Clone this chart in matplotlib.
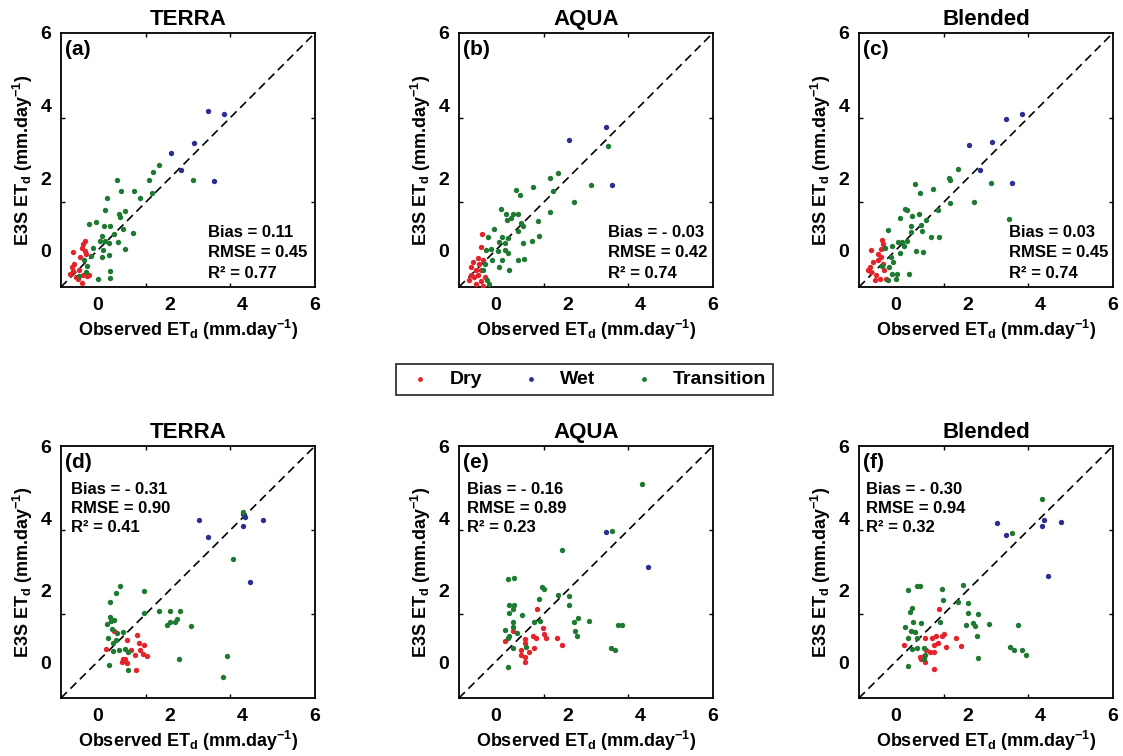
import matplotlib
matplotlib.use("Agg")
import matplotlib.pyplot as plt

plt.rcParams['font.family'] = ['Liberation Sans', 'DejaVu Sans']
plt.rcParams['font.weight'] = 'bold'
plt.rcParams['axes.labelweight'] = 'bold'
plt.rcParams['axes.titleweight'] = 'bold'
plt.rcParams['mathtext.fontset'] = 'custom'
plt.rcParams['mathtext.rm'] = 'Liberation Sans:bold'
plt.rcParams['mathtext.it'] = 'Liberation Sans:bold'
plt.rcParams['mathtext.bf'] = 'Liberation Sans:bold'
plt.rcParams['mathtext.default'] = 'bf'

# (observed, E3S) pairs, one list per panel and class
a_dry = [(-0.39, 0.19), (-0.42, 0.08), (-0.34, -0.01), (-0.31, -0.10), (-0.66, -0.04),
         (-0.63, -0.36), (-0.71, -0.45), (-0.49, -0.54), (-0.40, -0.68), (-0.29, -0.70),
         (-0.22, -0.68), (-0.75, -0.63), (-0.42, -0.90), (-0.59, -0.72), (-0.66, -0.56),
         (-0.48, -0.18), (-0.52, -0.77), (-0.34, 0.28)]
a_wet = [(3.04, 3.86), (3.50, 3.77), (2.66, 2.96), (2.03, 2.69), (2.32, 2.21), (3.21, 1.92)]
a_tra = [(1.71, 2.35), (1.53, 2.17), (1.42, 1.96), (0.55, 1.94), (0.65, 1.64), (1.01, 1.64),
         (2.63, 1.94), (0.28, 1.46), (1.18, 1.45), (1.52, 1.60), (0.22, 1.13), (0.61, 1.02),
         (0.77, 1.09), (0.62, 0.92), (-0.23, 0.74), (-0.04, 0.79), (0.18, 0.69), (0.36, 0.68),
         (0.47, 0.46), (0.70, 0.60), (0.98, 0.50), (0.14, 0.41), (0.08, 0.26), (0.20, 0.28),
         (0.33, 0.21), (0.58, 0.24), (-0.11, 0.08), (0.15, 0.02), (0.76, 0.05), (0.13, -0.18),
         (0.32, -0.11), (0.01, -0.79), (0.35, -0.57), (0.35, -0.75), (-0.37, -0.25),
         (-0.27, -0.43), (-0.16, -0.14), (-0.50, -0.70), (-0.30, -0.60)]

b_dry = [(-0.36, 0.45), (-0.40, 0.11), (-0.48, -0.19), (-0.34, -0.25), (-0.62, -0.31),
         (-0.66, -0.44), (-0.52, -0.54), (-0.38, -0.52), (-0.68, -0.68), (-0.59, -0.72),
         (-0.48, -0.68), (-0.40, -0.84), (-0.34, -0.96), (-0.52, -0.93), (-0.29, -0.72),
         (-0.71, -0.81), (-0.46, -0.36)]
b_wet = [(2.03, 3.05), (3.05, 3.42), (3.23, 1.80)]
b_tra = [(3.12, 2.89), (2.63, 1.80), (2.17, 1.33), (1.73, 2.15), (1.52, 2.01), (0.58, 1.68),
         (0.68, 1.54), (1.05, 1.75), (1.58, 1.65), (1.52, 1.06), (0.15, 1.14), (0.30, 1.02),
         (0.48, 1.02), (0.63, 1.02), (0.31, 0.85), (0.44, 0.90), (0.72, 0.76), (0.76, 0.67),
         (1.18, 0.83), (-0.04, 0.61), (0.62, 0.53), (-0.20, 0.37), (0.09, 0.24), (0.18, 0.39),
         (0.35, 0.35), (0.28, 0.20), (0.76, 0.22), (1.01, 0.26), (1.21, 0.41), (-0.12, 0.05),
         (-0.25, 0.01), (0.08, 0.00), (0.26, 0.03), (0.35, -0.06), (-0.08, -0.25),
         (0.18, -0.27), (0.62, -0.25), (0.79, -0.22), (0.09, -0.44), (0.38, -0.52),
         (-0.22, -0.81), (-0.16, -0.92), (-0.34, -0.54), (-0.29, -0.37)]

c_dry = [(-0.36, 0.30), (-0.34, 0.19), (-0.39, 0.05), (-0.66, 0.01), (-0.48, -0.08),
         (-0.39, -0.18), (-0.48, -0.27), (-0.62, -0.31), (-0.34, -0.36), (-0.71, -0.44),
         (-0.66, -0.58), (-0.52, -0.68), (-0.75, -0.54), (-0.43, -0.77), (-0.25, -0.77),
         (-0.57, -0.81), (-0.31, -0.54)]
c_wet = [(3.50, 3.77), (3.04, 3.63), (2.67, 2.99), (2.02, 2.90), (2.33, 2.21), (3.22, 1.87)]
c_tra = [(2.64, 1.87), (2.16, 1.35), (3.13, 0.87), (1.73, 2.24), (1.47, 2.01), (1.52, 1.95),
         (0.55, 1.83), (1.05, 1.71), (0.67, 1.60), (1.51, 1.32), (0.26, 1.16), (0.32, 1.11),
         (0.65, 1.00), (0.46, 0.95), (0.14, 0.91), (1.18, 1.13), (0.86, 0.85), (0.70, 0.72),
         (0.43, 0.69), (-0.21, 0.56), (0.44, 0.52), (0.74, 0.54), (0.99, 0.37), (1.21, 0.39),
         (0.07, 0.24), (0.19, 0.24), (0.32, 0.26), (0.24, 0.12), (-0.08, 0.14), (0.58, 0.00),
         (0.77, -0.04), (0.12, -0.05), (-0.29, 0.08), (-0.11, -0.18), (-0.05, -0.32),
         (-0.16, -0.45), (-0.08, -0.63), (0.06, -0.63), (0.37, -0.63), (0.03, -0.79),
         (-0.20, -0.81), (-0.37, -0.43)]

d_dry = [(0.46, 0.86), (1.10, 0.75), (0.81, 0.62), (1.15, 0.54), (1.30, 0.48), (0.23, 0.36),
         (0.94, 0.33), (1.18, 0.33), (1.27, 0.22), (1.38, 0.17), (1.04, 0.19), (0.70, 0.07),
         (0.77, 0.09), (0.67, 0.00), (0.81, -0.02), (1.06, -0.22)]
d_wet = [(2.80, 3.94), (3.04, 3.48), (4.01, 4.11), (4.07, 4.03), (4.02, 3.78), (4.58, 3.94),
         (4.21, 2.21)]
d_tra = [(4.02, 4.18), (3.75, 2.85), (0.64, 2.12), (0.52, 1.91), (0.35, 1.67), (1.29, 1.98),
         (1.30, 1.35), (1.71, 1.43), (2.00, 1.42), (2.28, 1.41), (2.19, 1.19), (2.14, 1.10),
         (2.00, 1.12), (1.93, 1.03), (2.57, 0.99), (0.35, 1.26), (0.28, 1.07), (0.37, 1.14),
         (0.47, 1.18), (0.40, 0.91), (0.72, 0.84), (0.55, 0.81), (0.30, 0.66), (0.52, 0.62),
         (0.44, 0.54), (0.77, 0.35), (0.84, 0.29), (0.61, 0.33), (0.44, 0.31), (0.33, -0.07),
         (0.84, -0.23), (2.24, 0.08), (3.57, 0.16), (3.47, -0.41)]

e_dry = [(1.14, 1.46), (0.50, 0.86), (0.26, 0.59), (0.82, 0.65), (0.83, 0.54), (1.03, 0.71),
         (1.11, 0.68), (1.31, 0.94), (1.39, 0.66), (1.35, 0.78), (1.69, 0.67), (1.83, 0.46),
         (0.70, 0.32), (0.92, 0.29), (1.06, 0.39), (0.82, 0.14), (0.83, 0.01), (0.70, 0.19)]
e_wet = [(3.05, 3.61), (4.22, 2.63)]
e_tra = [(4.03, 4.95), (3.22, 3.64), (1.85, 3.12), (0.36, 2.30), (0.52, 2.33), (1.30, 2.08),
         (1.33, 2.02), (1.73, 1.87), (2.02, 1.84), (1.21, 1.75), (2.02, 1.59), (0.39, 1.58),
         (0.52, 1.58), (0.38, 1.37), (0.75, 1.31), (0.48, 1.47), (0.50, 1.10), (0.48, 0.97),
         (0.28, 0.90), (0.59, 0.80), (1.07, 1.10), (1.23, 1.15), (2.16, 1.10), (2.29, 1.23),
         (2.59, 1.13), (2.21, 0.87), (2.26, 0.73), (3.39, 1.04), (3.50, 1.04), (3.18, 0.39),
         (3.29, 0.32), (0.35, 0.66), (0.39, 0.72), (0.50, 0.38), (0.84, 0.43), (0.35, -0.14)]

f_dry = [(1.21, 1.47), (0.82, 0.66), (0.24, 0.46), (1.02, 0.68), (1.11, 0.73), (1.06, 0.48),
         (1.18, 0.52), (1.30, 0.73), (1.34, 0.77), (1.39, 0.43), (1.67, 0.68), (1.82, 0.45),
         (0.68, 0.14), (0.79, 0.17), (0.72, 0.08), (0.83, -0.01), (1.08, -0.20), (0.97, 0.29),
         (1.07, 0.27), (0.86, 0.34)]
f_wet = [(2.81, 3.85), (3.04, 3.52), (4.05, 3.78), (4.09, 3.94), (4.58, 3.89), (4.21, 2.40)]
f_tra = [(4.03, 4.53), (3.23, 3.58), (1.87, 2.14), (0.59, 2.12), (0.67, 2.12), (0.36, 1.99),
         (1.29, 2.02), (1.32, 1.71), (1.73, 1.66), (2.01, 1.64), (0.45, 1.51), (0.40, 1.38),
         (2.01, 1.35), (2.27, 1.33), (1.23, 1.12), (0.72, 1.09), (0.50, 1.11), (0.28, 0.98),
         (1.94, 1.03), (2.15, 1.08), (2.19, 1.01), (2.59, 1.05), (3.39, 1.03), (2.26, 0.73),
         (0.43, 0.87), (0.54, 0.83), (0.34, 0.66), (0.59, 0.68), (0.47, 0.37), (0.61, 0.38),
         (0.80, 0.38), (0.83, 0.19), (0.80, 0.08), (0.36, -0.10), (2.28, 0.10), (3.16, 0.41),
         (3.28, 0.33), (3.50, 0.34), (3.59, 0.19)]

titles = ["TERRA", "AQUA", "Blended", "TERRA", "AQUA", "Blended"]
letters = ["(a)", "(b)", "(c)", "(d)", "(e)", "(f)"]
bias = ["0.11", "- 0.03", "0.03", "- 0.31", "- 0.16", "- 0.30"]
rmse = ["0.45", "0.42", "0.45", "0.90", "0.89", "0.94"]
r2 = ["0.77", "0.74", "0.74", "0.41", "0.23", "0.32"]
classes = ["Dry", "Wet", "Transition"]

panels = [(a_dry, a_wet, a_tra), (b_dry, b_wet, b_tra), (c_dry, c_wet, c_tra),
          (d_dry, d_wet, d_tra), (e_dry, e_wet, e_tra), (f_dry, f_wet, f_tra)]
colors = ["#e3242b", "#2b2f90", "#1d7a30"]

fig = plt.figure(figsize=(11.23, 7.56), dpi=100)

lefts = [0.0543, 0.4087, 0.7649]
rows = [(0.6204, 0.336), (0.0767, 0.3333)]

handles = []
for i in range(6):
    row = i // 3
    ax = fig.add_axes([lefts[i % 3], rows[row][0], 0.2262, rows[row][1]])
    for pts, col in zip(panels[i], colors):
        xs = [p[0] for p in pts]
        ys = [p[1] for p in pts]
        h = ax.scatter(xs, ys, s=15, color=col, linewidths=0, zorder=3)
        if i == 0:
            handles.append(h)
    ax.axline((0, 0), slope=1, color="black", lw=1.2, ls=(0, (5, 3)), zorder=2)
    ax.set_xlim(-1, 6)
    ax.set_ylim(-1, 6)
    ax.set_xticks([0, 2, 4, 6])
    ax.set_yticks([0, 2, 4, 6])
    ax.set_xticks([-1 + 7 / 3, -1 + 14 / 3], minor=True)
    ax.set_yticks([-1 + 7 / 3, -1 + 14 / 3], minor=True)
    ax.tick_params(which="major", length=0, labelsize=14, pad=7)
    ax.tick_params(which="minor", direction="in", length=3, width=1,
                   top=True, right=True)
    for sp in ax.spines.values():
        sp.set_linewidth(1.3)
    ax.set_title(titles[i], fontsize=16, fontweight="bold", pad=6)
    ax.set_xlabel(r"Observed ET$_{d}$ (mm.day$^{-1}$)", fontsize=13, labelpad=3)
    ax.set_ylabel(r"E3S ET$_{d}$ (mm.day$^{-1}$)", fontsize=13, labelpad=4)
    ax.text(0.016, 0.935, letters[i], transform=ax.transAxes, fontsize=15,
            fontweight="bold", va="center", ha="left")
    lines = ["Bias = " + bias[i], "RMSE = " + rmse[i], "R\u00b2 = " + r2[i]]
    if row == 0:
        xt = [0.579, 0.587, 0.59][i]
        ypos = [0.213, 0.134, 0.055]
    else:
        xt = [0.039, 0.031, 0.028][i - 3]
        ypos = [0.829, 0.754, 0.675]
    for t, yy in zip(lines, ypos):
        ax.text(xt, yy, t, transform=ax.transAxes, fontsize=12,
                fontweight="bold", va="center", ha="left")

leg = fig.legend(handles, classes, loc="center", bbox_to_anchor=(0.5205, 0.498),
                 ncol=3, fontsize=14, frameon=True, fancybox=False,
                 edgecolor="black", handlelength=1.8, handletextpad=0.6,
                 columnspacing=1.6, markerscale=0.9, borderpad=0.35)
leg.get_frame().set_linewidth(1.3)

fig.savefig("out.png", dpi=100)
